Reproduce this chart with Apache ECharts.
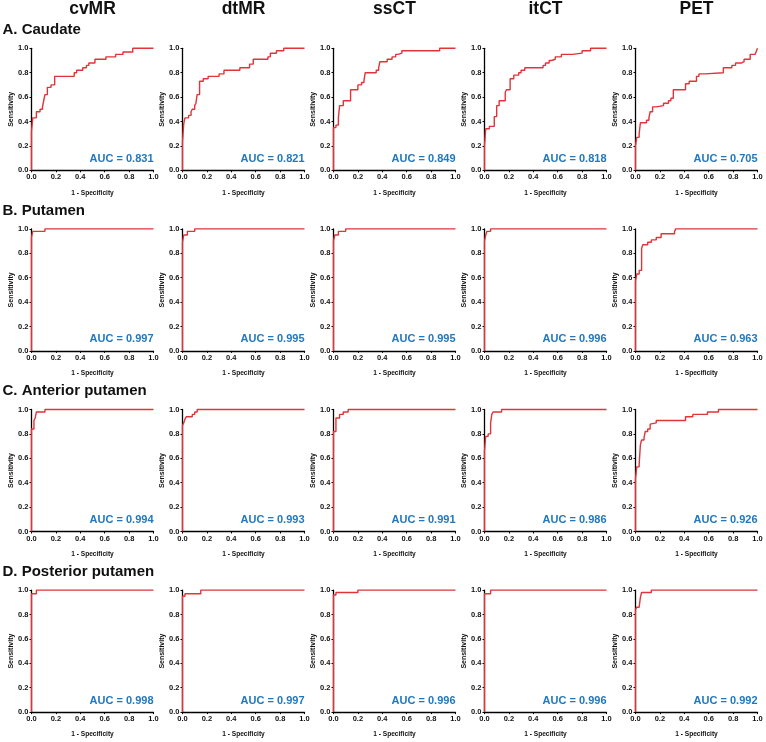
<!DOCTYPE html>
<html><head><meta charset="utf-8">
<script src="https://cdn.jsdelivr.net/npm/echarts@6/dist/echarts.min.js"></script>
<style>html,body{margin:0;padding:0;background:#fff}#c{width:766px;height:742px}</style>
</head><body><div id="c"></div>
<script>
// ---- data ----
const methods = ['cvMR', 'dtMR', 'ssCT', 'itCT', 'PET'];
const regions = ['A. Caudate', 'B. Putamen', 'C. Anterior putamen', 'D. Posterior putamen'];
const tickValues = [0, 0.2, 0.4, 0.6, 0.8, 1.0];

const aucCaudate = [0.831, 0.821, 0.849, 0.818, 0.705];
const aucPutamen = [0.997, 0.995, 0.995, 0.996, 0.963];
const aucAntPutamen = [0.994, 0.993, 0.991, 0.986, 0.926];
const aucPostPutamen = [0.998, 0.997, 0.996, 0.996, 0.992];

// ROC curves: [1 - specificity, sensitivity]
const caudate_cvMR = [[0,0],[0,0.32],[0.01,0.32],[0.01,0.43],[0.04,0.43],[0.04,0.48],[0.07,0.48],[0.07,0.5],[0.09,0.5],[0.09,0.52],[0.1,0.52],[0.1,0.57],[0.11,0.57],[0.11,0.62],[0.13,0.62],[0.13,0.68],[0.16,0.68],[0.16,0.7],[0.19,0.7],[0.19,0.77],[0.35,0.77],[0.35,0.8],[0.37,0.8],[0.37,0.82],[0.42,0.82],[0.42,0.84],[0.45,0.84],[0.45,0.86],[0.47,0.86],[0.47,0.88],[0.52,0.88],[0.52,0.91],[0.61,0.91],[0.61,0.93],[0.69,0.93],[0.69,0.95],[0.75,0.95],[0.75,0.97],[0.83,0.97],[0.83,1],[1,1]];
const caudate_dtMR = [[0,0],[0,0.23],[0.01,0.23],[0.01,0.38],[0.02,0.38],[0.02,0.43],[0.05,0.43],[0.05,0.45],[0.07,0.45],[0.07,0.48],[0.08,0.48],[0.08,0.5],[0.1,0.5],[0.1,0.53],[0.11,0.53],[0.11,0.55],[0.12,0.55],[0.12,0.62],[0.14,0.62],[0.14,0.73],[0.17,0.73],[0.17,0.75],[0.21,0.75],[0.21,0.77],[0.3,0.77],[0.3,0.79],[0.34,0.79],[0.34,0.82],[0.47,0.82],[0.47,0.84],[0.55,0.84],[0.55,0.87],[0.58,0.87],[0.58,0.91],[0.7,0.91],[0.7,0.93],[0.72,0.93],[0.72,0.96],[0.77,0.96],[0.77,0.98],[0.83,0.98],[0.83,1],[1,1]];
const caudate_ssCT = [[0,0],[0,0.35],[0.02,0.35],[0.02,0.37],[0.04,0.37],[0.04,0.43],[0.05,0.43],[0.05,0.53],[0.08,0.53],[0.08,0.57],[0.14,0.57],[0.14,0.66],[0.2,0.66],[0.2,0.7],[0.23,0.7],[0.23,0.72],[0.25,0.72],[0.25,0.74],[0.26,0.74],[0.26,0.8],[0.35,0.8],[0.35,0.82],[0.37,0.82],[0.37,0.84],[0.38,0.84],[0.38,0.89],[0.44,0.89],[0.44,0.91],[0.48,0.91],[0.48,0.93],[0.51,0.93],[0.51,0.95],[0.53,0.95],[0.53,0.96],[0.56,0.96],[0.56,0.98],[0.87,0.98],[0.87,1],[1,1]];
const caudate_itCT = [[0,0],[0,0.2],[0.01,0.2],[0.01,0.34],[0.04,0.34],[0.04,0.36],[0.08,0.36],[0.08,0.44],[0.1,0.44],[0.1,0.53],[0.12,0.53],[0.12,0.57],[0.17,0.57],[0.17,0.64],[0.18,0.64],[0.18,0.66],[0.21,0.66],[0.21,0.75],[0.24,0.75],[0.24,0.78],[0.28,0.78],[0.28,0.8],[0.3,0.8],[0.3,0.82],[0.33,0.82],[0.33,0.84],[0.48,0.84],[0.48,0.86],[0.5,0.86],[0.5,0.88],[0.53,0.88],[0.53,0.9],[0.55,0.9],[0.55,0.91],[0.58,0.91],[0.58,0.93],[0.63,0.93],[0.63,0.95],[0.72,0.95],[0.72,0.96],[0.8,0.96],[0.8,0.98],[0.87,0.98],[0.87,1],[1,1]];
const caudate_PET = [[0,0],[0,0.2],[0.01,0.2],[0.01,0.27],[0.03,0.27],[0.03,0.3],[0.04,0.3],[0.04,0.39],[0.09,0.39],[0.09,0.41],[0.11,0.41],[0.11,0.43],[0.12,0.43],[0.12,0.48],[0.14,0.48],[0.14,0.52],[0.17,0.52],[0.17,0.53],[0.23,0.53],[0.23,0.55],[0.27,0.55],[0.27,0.57],[0.29,0.57],[0.29,0.59],[0.31,0.59],[0.31,0.66],[0.41,0.66],[0.41,0.71],[0.44,0.71],[0.44,0.73],[0.5,0.73],[0.5,0.77],[0.52,0.77],[0.52,0.79],[0.57,0.79],[0.57,0.8],[0.72,0.8],[0.72,0.84],[0.79,0.84],[0.79,0.86],[0.82,0.86],[0.82,0.88],[0.87,0.88],[0.87,0.89],[0.89,0.89],[0.89,0.91],[0.94,0.91],[0.94,0.95],[0.98,0.95],[0.98,0.96],[1,1]];

const putamen_cvMR = [[0,0],[0,0.93],[0.01,0.93],[0.01,0.98],[0.11,0.98],[0.11,1],[1,1]];
const putamen_dtMR = [[0,0],[0,0.89],[0.01,0.89],[0.01,0.95],[0.04,0.95],[0.04,0.98],[0.1,0.98],[0.1,1],[1,1]];
const putamen_ssCT = [[0,0],[0,0.9],[0.01,0.9],[0.01,0.95],[0.04,0.95],[0.04,0.98],[0.1,0.98],[0.1,1],[1,1]];
const putamen_itCT = [[0,0],[0,0.9],[0.01,0.9],[0.01,0.95],[0.02,0.95],[0.02,0.98],[0.05,0.98],[0.05,1],[1,1]];
const putamen_PET = [[0,0],[0,0.57],[0.01,0.57],[0.01,0.63],[0.03,0.63],[0.03,0.66],[0.05,0.66],[0.05,0.84],[0.06,0.84],[0.06,0.87],[0.1,0.87],[0.1,0.89],[0.13,0.89],[0.13,0.91],[0.17,0.91],[0.17,0.93],[0.21,0.93],[0.21,0.96],[0.32,0.96],[0.32,0.98],[0.33,0.98],[0.33,1],[1,1]];

const antPutamen_cvMR = [[0,0],[0,0.84],[0.02,0.84],[0.02,0.91],[0.03,0.91],[0.03,0.93],[0.04,0.93],[0.04,0.98],[0.11,0.98],[0.11,1],[1,1]];
const antPutamen_dtMR = [[0,0],[0,0.87],[0.01,0.87],[0.01,0.89],[0.02,0.89],[0.02,0.92],[0.03,0.92],[0.03,0.94],[0.08,0.94],[0.08,0.96],[0.1,0.96],[0.1,0.98],[0.12,0.98],[0.12,1],[1,1]];
const antPutamen_ssCT = [[0,0],[0,0.82],[0.02,0.82],[0.02,0.93],[0.05,0.93],[0.05,0.96],[0.08,0.96],[0.08,0.98],[0.12,0.98],[0.12,1],[1,1]];
const antPutamen_itCT = [[0,0],[0,0.66],[0.01,0.66],[0.01,0.78],[0.03,0.78],[0.03,0.8],[0.05,0.8],[0.05,0.89],[0.06,0.89],[0.06,0.96],[0.07,0.96],[0.07,0.98],[0.14,0.98],[0.14,1],[1,1]];
const antPutamen_PET = [[0,0],[0,0.43],[0.01,0.43],[0.01,0.53],[0.03,0.53],[0.03,0.55],[0.04,0.55],[0.04,0.71],[0.05,0.71],[0.05,0.75],[0.07,0.75],[0.07,0.77],[0.08,0.77],[0.08,0.82],[0.1,0.82],[0.1,0.84],[0.12,0.84],[0.12,0.88],[0.13,0.88],[0.13,0.89],[0.17,0.89],[0.17,0.91],[0.41,0.91],[0.41,0.94],[0.47,0.94],[0.47,0.96],[0.59,0.96],[0.59,0.98],[0.68,0.98],[0.68,1],[1,1]];

const postPutamen_cvMR = [[0,0],[0,0.97],[0.04,0.97],[0.04,1],[1,1]];
const postPutamen_dtMR = [[0,0],[0,0.95],[0.02,0.95],[0.02,0.97],[0.15,0.97],[0.15,1],[1,1]];
const postPutamen_ssCT = [[0,0],[0,0.96],[0.02,0.96],[0.02,0.98],[0.2,0.98],[0.2,1],[1,1]];
const postPutamen_itCT = [[0,0],[0,0.97],[0.05,0.97],[0.05,1],[1,1]];
const postPutamen_PET = [[0,0],[0,0.84],[0.01,0.84],[0.01,0.86],[0.03,0.86],[0.03,0.87],[0.04,0.87],[0.04,0.94],[0.05,0.94],[0.05,0.98],[0.13,0.98],[0.13,1],[1,1]];

const curves = [
  [caudate_cvMR, caudate_dtMR, caudate_ssCT, caudate_itCT, caudate_PET],
  [putamen_cvMR, putamen_dtMR, putamen_ssCT, putamen_itCT, putamen_PET],
  [antPutamen_cvMR, antPutamen_dtMR, antPutamen_ssCT, antPutamen_itCT, antPutamen_PET],
  [postPutamen_cvMR, postPutamen_dtMR, postPutamen_ssCT, postPutamen_itCT, postPutamen_PET]
];
const aucs = [aucCaudate, aucPutamen, aucAntPutamen, aucPostPutamen];

// ---- layout ----
const FONT = 'Liberation Sans, Arial, sans-serif';
const LEFT0 = 31.5, COLSTEP = 151, W = 122;
const TOP0 = 48.3, ROWSTEP = 180.6, H = 122;
const RED = '#e0343a', BLUE = '#1f78c0';

const grids = [], xAxes = [], yAxes = [], series = [];
let k = 0;
for (let r = 0; r < 4; r++) {
  for (let c = 0; c < 5; c++) {
    grids.push({left: LEFT0 + COLSTEP * c, top: TOP0 + ROWSTEP * r, width: W, height: H, containLabel: false});
    const axisCommon = {
      min: 0, max: 1, interval: 0.2,
      axisLine: {show: true, lineStyle: {color: '#000', width: 1.3}},
      axisTick: {show: true, length: 2, lineStyle: {color: '#000', width: 1}},
      splitLine: {show: false},
      axisLabel: {fontFamily: FONT, fontWeight: 'bold', fontSize: 7.5, color: '#111', margin: 3,
        formatter: v => tickValues.includes(Math.round(v * 10) / 10) ? v.toFixed(1) : ''}
    };
    xAxes.push(Object.assign({}, axisCommon, {type: 'value', gridIndex: k, z: 1,
      name: '1 - Specificity', nameLocation: 'middle', nameGap: 19,
      nameTextStyle: {fontFamily: FONT, fontWeight: 'bold', fontSize: 6.6, color: '#111'}}));
    yAxes.push(Object.assign({}, axisCommon, {type: 'value', gridIndex: k, z: 1,
      name: 'Sensitivity', nameLocation: 'middle', nameGap: 17,
      nameTextStyle: {fontFamily: FONT, fontWeight: 'bold', fontSize: 7, color: '#111'}}));
    series.push({type: 'line', xAxisIndex: k, yAxisIndex: k, data: curves[r][c], clip: false, z: 5,
      showSymbol: false, symbol: 'none', lineStyle: {color: RED, width: 1.4}, animation: false, silent: true});
    k++;
  }
}

const chart = echarts.init(document.getElementById('c'), null, {renderer: 'canvas'});
chart.setOption({animation: false, grid: grids, xAxis: xAxes, yAxis: yAxes, series: series});

const graphics = [];
methods.forEach((m, c) => {
  graphics.push({type: 'text', x: LEFT0 + COLSTEP * c + W / 2, y: 9.5,
    style: {text: m, font: 'bold 17.5px ' + FONT, fill: '#111', textAlign: 'center', textVerticalAlign: 'middle'}});
});
regions.forEach((t, r) => {
  graphics.push({type: 'text', x: 2.5, y: 30 + ROWSTEP * r,
    style: {text: t, font: 'bold 15px ' + FONT, fill: '#111', textAlign: 'left', textVerticalAlign: 'middle'}});
});
k = 0;
for (let r = 0; r < 4; r++) {
  for (let c = 0; c < 5; c++) {
    const p = chart.convertToPixel({gridIndex: k}, [1, 0.094]);
    graphics.push({type: 'text', x: p[0], y: p[1],
      style: {text: 'AUC = ' + aucs[r][c].toFixed(3), font: 'bold 11px ' + FONT, fill: BLUE,
        textAlign: 'right', textVerticalAlign: 'middle'}});
    k++;
  }
}
chart.setOption({graphic: graphics});
</script>
</body></html>
